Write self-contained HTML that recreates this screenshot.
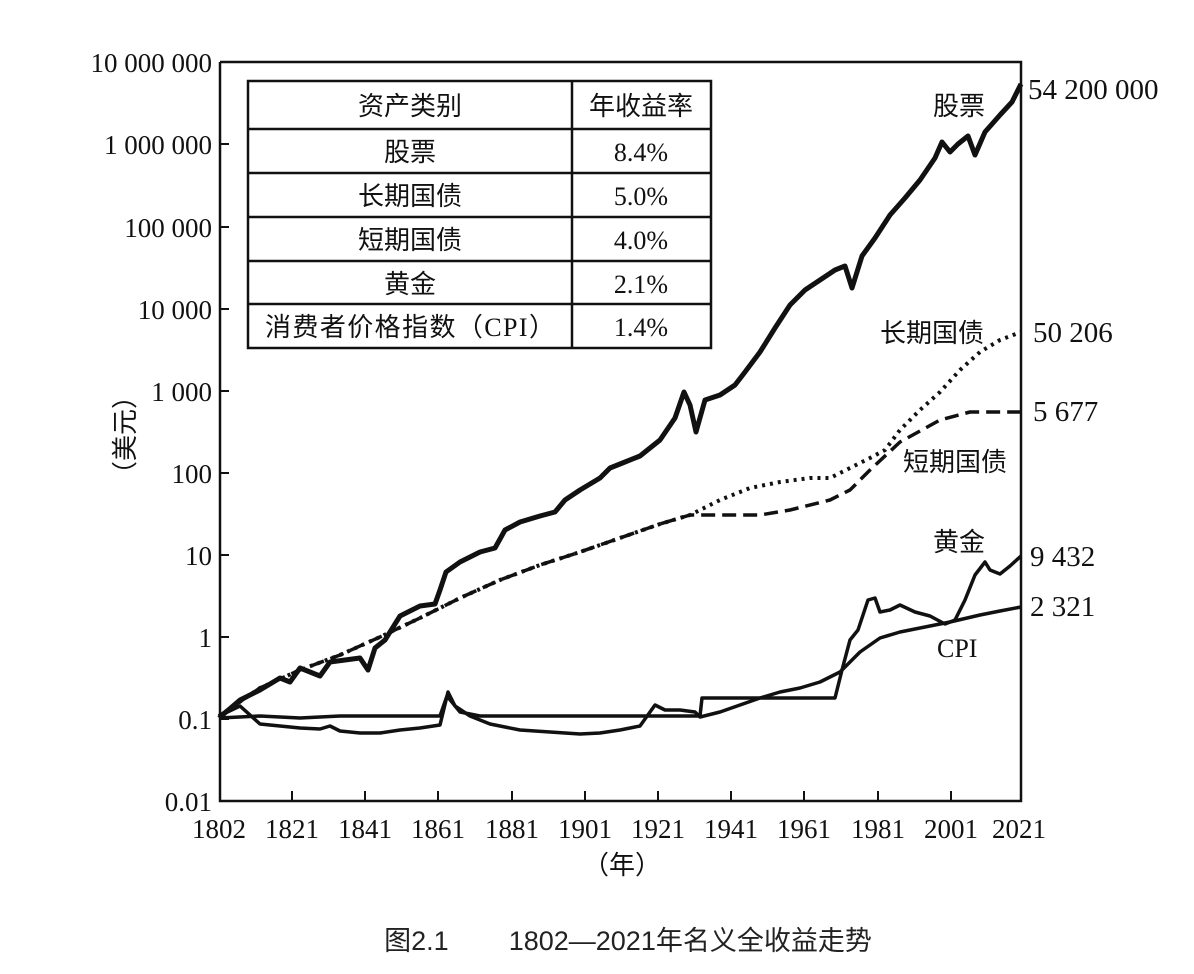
<!DOCTYPE html>
<html><head><meta charset="utf-8"><style>
body{margin:0;background:#fff;}
svg{display:block;}
.t{font-family:"Liberation Serif","Noto Serif CJK SC",serif;font-size:27px;fill:#111;}
.c{font-family:"Liberation Serif","Noto Sans CJK SC",sans-serif;font-size:26px;fill:#111;}
</style></head><body>
<svg width="1194" height="974" viewBox="0 0 1194 974">
<rect width="1194" height="974" fill="#fff"/>
<g stroke="#111" stroke-width="2.5" fill="none">
<polyline points="220,62 1021,62 1021,801 220,801 220,62"/>
</g>
<g stroke="#111" stroke-width="2">
<line x1="220" y1="144" x2="229" y2="144"/><line x1="220" y1="227" x2="229" y2="227"/><line x1="220" y1="309" x2="229" y2="309"/><line x1="220" y1="391" x2="229" y2="391"/><line x1="220" y1="473" x2="229" y2="473"/><line x1="220" y1="555" x2="229" y2="555"/><line x1="220" y1="637" x2="229" y2="637"/><line x1="220" y1="719" x2="229" y2="719"/>
<line x1="292" y1="801" x2="292" y2="791"/><line x1="365" y1="801" x2="365" y2="791"/><line x1="438" y1="801" x2="438" y2="791"/><line x1="512" y1="801" x2="512" y2="791"/><line x1="585" y1="801" x2="585" y2="791"/><line x1="658" y1="801" x2="658" y2="791"/><line x1="731" y1="801" x2="731" y2="791"/><line x1="804" y1="801" x2="804" y2="791"/><line x1="878" y1="801" x2="878" y2="791"/><line x1="951" y1="801" x2="951" y2="791"/>
</g>
<g class="t" text-anchor="end">
<text x="212" y="72">10 000 000</text><text x="212" y="154">1 000 000</text><text x="212" y="237">100 000</text><text x="212" y="319">10 000</text><text x="212" y="401">1 000</text><text x="212" y="483">100</text><text x="212" y="565">10</text><text x="212" y="647">1</text><text x="212" y="729">0.1</text><text x="212" y="811">0.01</text>
</g>
<g class="t" text-anchor="middle">
<text x="219" y="838">1802</text><text x="292" y="838">1821</text><text x="365" y="838">1841</text><text x="438" y="838">1861</text><text x="512" y="838">1881</text><text x="585" y="838">1901</text><text x="658" y="838">1921</text><text x="731" y="838">1941</text><text x="804" y="838">1961</text><text x="878" y="838">1981</text><text x="951" y="838">2001</text><text x="1019" y="838">2021</text>
<text x="622" y="874" class="c">（年）</text>
</g>
<text class="c" transform="translate(134,435) rotate(-90)" text-anchor="middle">（美元）</text>
<g stroke="#111" stroke-width="2.5" fill="none">
<rect x="248" y="81" width="463" height="267"/>
<line x1="572" y1="81" x2="572" y2="348"/>
<line x1="248" y1="129" x2="711" y2="129"/><line x1="248" y1="173" x2="711" y2="173"/><line x1="248" y1="217" x2="711" y2="217"/><line x1="248" y1="261" x2="711" y2="261"/><line x1="248" y1="304" x2="711" y2="304"/>
</g>
<g class="c" text-anchor="middle">
<text x="410" y="115">资产类别</text><text x="641" y="115">年收益率</text>
<text x="410" y="161">股票</text><text x="641" y="161">8.4%</text>
<text x="410" y="205">长期国债</text><text x="641" y="205">5.0%</text>
<text x="410" y="249">短期国债</text><text x="641" y="249">4.0%</text>
<text x="410" y="293">黄金</text><text x="641" y="293">2.1%</text>
<text x="410" y="336" textLength="290">消费者价格指数（CPI）</text><text x="641" y="336">1.4%</text>
</g>
<g fill="none" stroke="#111" stroke-linejoin="round">
<polyline stroke-width="3.5" points="219,716 240,706 260,724 280,726 300,728 320,729 330,726 340,731 360,733 380,733 400,730 420,728 440,725 448,692 455,706 470,716 490,724 520,730 550,732 580,734 600,733 620,730 640,726 650,712 655,705 665,710 680,710 695,712 700,717 720,712 740,705 760,698 780,692 800,688 820,682 840,672 860,652 880,638 900,632 930,626 950,622 980,615 1000,611 1021,607"/>
<polyline stroke-width="3.5" points="219,718 260,716 300,718 340,716 440,716 447,696 460,712 480,716 560,716 640,716 700,716 702,698 760,698 835,698 842,670 850,640 858,630 868,600 875,598 880,612 890,610 900,605 915,612 930,616 945,624 955,620 965,600 975,575 985,562 990,570 1000,574 1010,566 1021,556"/>
<polyline stroke-width="3.5" stroke-dasharray="14,7" points="219,716 260,688 300,670 340,655 380,637 420,618 460,598 500,580 540,565 580,552 620,538 660,524 690,515 720,515 760,515 790,510 830,500 850,490 870,470 900,442 940,420 970,412 1021,412"/>
<polyline stroke-width="4" stroke-dasharray="3,5" points="219,716 260,688 300,670 340,655 380,637 420,618 460,598 500,580 540,565 580,552 620,538 660,524 690,515 720,500 750,488 780,482 810,478 830,478 850,468 870,458 885,450 900,430 920,410 940,392 960,370 980,352 1000,340 1021,332"/>
<polyline stroke-width="5" points="219,718 240,700 260,690 280,678 290,682 300,668 320,676 330,662 345,660 360,658 368,670 375,648 385,640 400,616 420,606 435,604 440,590 446,572 460,562 480,552 495,548 505,530 520,522 540,516 555,512 565,500 580,490 600,478 610,468 625,462 640,456 660,440 675,418 684,392 690,405 696,432 705,400 720,395 735,385 745,372 760,352 775,328 790,305 805,290 820,280 835,270 845,266 852,288 862,256 875,238 890,215 905,198 920,180 935,158 942,142 950,152 958,144 968,136 975,155 985,132 1000,115 1012,102 1021,84"/>
</g>
<g class="t" style="font-size:29px">
<text x="1028" y="99">54 200 000</text>
<text x="1033" y="342">50 206</text>
<text x="1033" y="421">5 677</text>
<text x="1030" y="566">9 432</text>
<text x="1030" y="616">2 321</text>
<text x="937" y="657" style="font-size:26px">CPI</text>
</g>
<g class="c">
<text x="933" y="115">股票</text>
<text x="880" y="342">长期国债</text>
<text x="903" y="471">短期国债</text>
<text x="933" y="551">黄金</text>
</g>
<text x="628" y="950" text-anchor="middle" style="font-family:'Liberation Sans','Noto Sans CJK SC',sans-serif;font-size:27px;fill:#222;" xml:space="preserve">图2.1        1802—2021年名义全收益走势</text>
</svg>
</body></html>
